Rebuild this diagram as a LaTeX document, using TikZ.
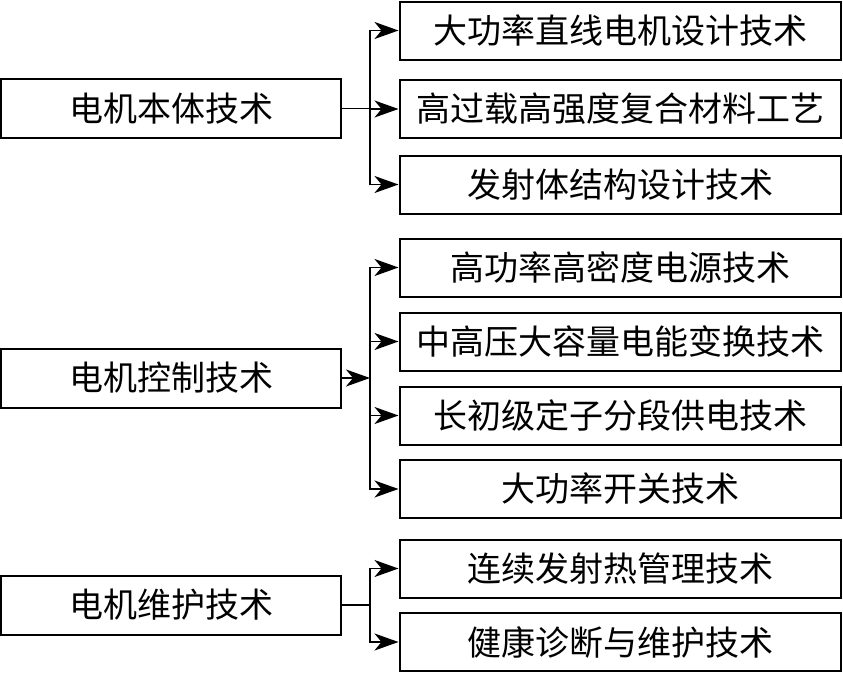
\documentclass[tikz,border=0pt]{standalone}
\usepackage{fontspec}
\setmainfont{Noto Sans CJK SC}
\usetikzlibrary{arrows.meta}

\begin{document}
\begin{tikzpicture}[x=1pt,y=-1pt,
  mainbox/.style={draw,line width=2pt,minimum width=340pt,minimum height=59pt,inner sep=0pt,font=\fontsize{34}{34}\selectfont},
  subbox/.style={draw,line width=2pt,minimum width=441pt,minimum height=58pt,inner sep=0pt,font=\fontsize{34}{34}\selectfont},
  conn/.style={line width=1.8pt},
  arr/.style={line width=1.8pt,-{Stealth[length=24pt,width=17pt,inset=7pt]}}]
  \useasboundingbox (0,0) rectangle (843,672);
  % motor body
  \node[mainbox] (body) at (171,108.5) {电机本体技术};
  \node[subbox] (b1) at (620,30.5) {大功率直线电机设计技术};
  \node[subbox] (b2) at (620,109) {高过载高强度复合材料工艺};
  \node[subbox] (b3) at (620,184.5) {发射体结构设计技术};
  \coordinate (t1) at (370,108.5);
  \draw[conn] (body.east) -- (t1);
  \draw[arr] (t1) |- (b1.west);
  \draw[arr] (t1) |- (b2.west);
  \draw[arr] (t1) |- (b3.west);
  % motor control
  \node[mainbox] (ctrl) at (171,378) {电机控制技术};
  \node[subbox] (c1) at (620,267.5) {高功率高密度电源技术};
  \node[subbox] (c2) at (620,341.5) {中高压大容量电能变换技术};
  \node[subbox] (c3) at (620,415.5) {长初级定子分段供电技术};
  \node[subbox] (c4) at (620,489) {大功率开关技术};
  \coordinate (t2) at (370,378);
  \draw[arr] (ctrl.east) -- (t2);
  \foreach \n in {c1,c2,c3,c4}
    \draw[arr] (t2) |- (\n.west);
  % motor maintenance
  \node[mainbox] (maint) at (171,605) {电机维护技术};
  \node[subbox] (m1) at (620,568.5) {连续发射热管理技术};
  \node[subbox] (m2) at (620,642) {健康诊断与维护技术};
  \coordinate (t3) at (370,605);
  \draw[conn] (maint.east) -- (t3);
  \draw[arr] (t3) |- (m1.west);
  \draw[arr] (t3) |- (m2.west);
\end{tikzpicture}
\end{document}
